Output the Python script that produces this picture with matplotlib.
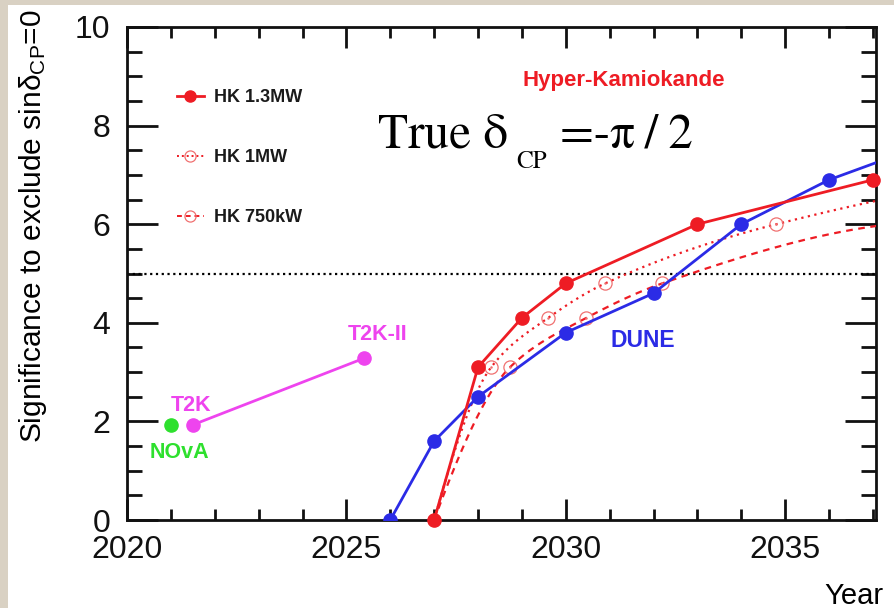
import numpy as np
import matplotlib
matplotlib.use("Agg")
import matplotlib.pyplot as plt
from matplotlib.patches import Rectangle
from matplotlib.lines import Line2D
from matplotlib.ticker import MultipleLocator

plt.rcParams['font.family'] = ['Liberation Sans', 'DejaVu Sans']
plt.rcParams['mathtext.fontset'] = 'custom'
plt.rcParams['mathtext.rm'] = 'Liberation Sans'
plt.rcParams['mathtext.it'] = 'Liberation Sans:italic'
plt.rcParams['mathtext.bf'] = 'Liberation Sans:bold'

# ---- data ----
hk13_year = [2027, 2028, 2029, 2030, 2033, 2037]
hk13_sig = [0.0, 3.1, 4.1, 4.8, 6.0, 6.9]

hk1_year = [2027, 2028.3, 2029.6, 2030.9, 2034.8, 2040.0]
hk1_sig = [0.0, 3.1, 4.1, 4.8, 6.0, 6.9]

hk750_year = [2027, 2028.73, 2030.47, 2032.2, 2037.4]
hk750_sig = [0.0, 3.1, 4.1, 4.8, 6.0]

dune_year = [2026, 2027, 2028, 2030, 2032, 2034, 2036, 2038]
dune_sig = [0.0, 1.6, 2.5, 3.8, 4.6, 6.0, 6.9, 7.55]

t2k_year = [2021.5, 2025.4]
t2k_sig = [1.93, 3.28]

nova_year = [2021.0]
nova_sig = [1.93]

threshold = 5.0

RED = '#ee1c24'
BLUE = '#2b2be6'
MAGENTA = '#ee44ee'
GREEN = '#2ee02e'
SERIF = ['STIXGeneral', 'DejaVu Serif']


def pchip(x, y, n=400):
    """Monotone cubic curve through the given points."""
    x = np.asarray(x, float)
    y = np.asarray(y, float)
    h = np.diff(x)
    d = np.diff(y) / h
    m = np.zeros_like(x)
    for k in range(1, len(x) - 1):
        if d[k - 1] * d[k] > 0:
            w1 = 2 * h[k] + h[k - 1]
            w2 = h[k] + 2 * h[k - 1]
            m[k] = (w1 + w2) / (w1 / d[k - 1] + w2 / d[k])
    m[0] = ((2 * h[0] + h[1]) * d[0] - h[0] * d[1]) / (h[0] + h[1])
    if np.sign(m[0]) != np.sign(d[0]):
        m[0] = 0
    m[-1] = ((2 * h[-1] + h[-2]) * d[-1] - h[-1] * d[-2]) / (h[-1] + h[-2])
    if np.sign(m[-1]) != np.sign(d[-1]):
        m[-1] = 0
    xs = np.linspace(x[0], x[-1], n)
    idx = np.clip(np.searchsorted(x, xs) - 1, 0, len(x) - 2)
    t = (xs - x[idx]) / h[idx]
    h00 = 2 * t**3 - 3 * t**2 + 1
    h10 = t**3 - 2 * t**2 + t
    h01 = -2 * t**3 + 3 * t**2
    h11 = t**3 - t**2
    ys = (h00 * y[idx] + h10 * h[idx] * m[idx] + h01 * y[idx + 1]
          + h11 * h[idx] * m[idx + 1])
    return xs, ys


fig = plt.figure(figsize=(8.94, 6.08), dpi=100)
fig.patch.set_facecolor('#d9d1c3')
fig.patches.append(Rectangle((8 / 894, 0), 1, 1 - 5 / 608,
                             transform=fig.transFigure, facecolor='white',
                             edgecolor='none', zorder=-5))

ax = fig.add_axes([127 / 894, 1 - 520 / 608, 749 / 894, 493 / 608])
ax.set_xlim(2020, 2037.07)
ax.set_ylim(0, 10)

# threshold line
ax.axhline(threshold, color='black', lw=1.6, ls=(0, (1, 1.6)), zorder=2)

# DUNE
ax.plot(dune_year, dune_sig, color=BLUE, lw=2, marker='o', ms=9.5,
        zorder=4, clip_on=True)

# HK 1MW and 750kW smooth curves with open markers
for yrs, sig, ls in [(hk1_year, hk1_sig, (0, (1, 2))),
                     (hk750_year, hk750_sig, (0, (3, 2.5)))]:
    xs, ys = pchip(yrs, sig)
    ax.plot(xs, ys, color=RED, lw=1.6, ls=ls, zorder=3)
    ax.plot(yrs[1:], sig[1:], ls='none', marker='o', ms=9.5, mfc='none',
            mec='#f07070', mew=0.9, zorder=3)
    ax.plot(yrs[1:], sig[1:], ls='none', marker='o', ms=1.8, mfc='#f07070',
            mec='none', zorder=3)

# HK 1.3MW
ax.plot(hk13_year, hk13_sig, color=RED, lw=2, marker='o', ms=9.5,
        zorder=5, clip_on=False)

# T2K and NOvA
ax.plot(t2k_year, t2k_sig, color=MAGENTA, lw=2, marker='o', ms=9.5, zorder=5)
ax.plot(nova_year, nova_sig, color=GREEN, ls='none', marker='o', ms=9.5,
        zorder=5)

# labels
ax.text(2021.45, 2.1, 'T2K', color=MAGENTA, fontsize=15.5, fontweight='bold',
        ha='center', va='bottom')
ax.text(2025.7, 3.55, 'T2K-II', color=MAGENTA, fontsize=15.5,
        fontweight='bold', ha='center', va='bottom')
ax.text(2021.2, 1.36, 'NOvA', color=GREEN, fontsize=15.5, fontweight='bold',
        ha='center', va='center')
ax.text(2031.75, 3.65, 'DUNE', color=BLUE, fontsize=16.5, fontweight='bold',
        ha='center', va='center')
ax.text(2031.33, 8.92, 'Hyper-Kamiokande', color=RED, fontsize=16,
        fontweight='bold', ha='center', va='center')

# "True delta_CP = -pi/2" set in three pieces for a deep subscript
ax.text(2025.72, 7.55, 'True δ', family=SERIF, fontsize=35.5,
        ha='left', va='baseline')
ax.text(2028.86, 7.13, 'CP', family=SERIF, fontsize=18,
        ha='left', va='baseline')
ax.text(2029.87, 7.55, '=-π\u2009/\u20092', family=SERIF, fontsize=35.5,
        ha='left', va='baseline')

# legend
handles = [
    Line2D([], [], color=RED, lw=2, marker='o', ms=8),
    Line2D([], [], color=RED, lw=1.4, ls=(0, (1, 1.5)), marker='o', ms=8,
           mfc='none', mec='#f07070', mew=0.9),
    Line2D([], [], color=RED, lw=1.4, ls=(0, (2.5, 2)), marker='o', ms=8,
           mfc='none', mec='#f07070', mew=0.9),
]
labels = ['HK 1.3MW', 'HK 1MW', 'HK 750kW']
leg = ax.legend(handles, labels, loc='upper left',
                bbox_to_anchor=(0.057, 0.888), frameon=False,
                prop={'weight': 'bold', 'size': 13}, handlelength=1.5,
                handletextpad=0.55, labelspacing=2.38, borderaxespad=0)
for t in leg.get_texts():
    t.set_color('#1a1a1a')

# axes styling (inward ticks on all sides)
ax.xaxis.set_major_locator(MultipleLocator(5))
ax.xaxis.set_minor_locator(MultipleLocator(1))
ax.yaxis.set_major_locator(MultipleLocator(2))
ax.yaxis.set_minor_locator(MultipleLocator(0.5))
ax.tick_params(which='both', direction='in', top=True, right=True,
               width=2, colors='#111111')
ax.tick_params(axis='x', which='major', length=15, labelsize=23, pad=11)
ax.tick_params(axis='x', which='minor', length=8)
ax.tick_params(axis='y', which='major', length=22, labelsize=23, pad=12)
ax.tick_params(axis='y', which='minor', length=11)
for s in ax.spines.values():
    s.set_linewidth(2)
    s.set_color('#111111')

ax.set_ylabel(r'Significance to exclude sin$\mathrm{\delta}_{\mathrm{CP}}$=0',
              fontsize=21.5, math_fontfamily='custom')
ax.yaxis.set_label_coords(-0.104, 0.595)
ax.set_xlabel('Year', fontsize=21, ha='right')
ax.xaxis.set_label_coords(1.01, -0.125)

fig.savefig('out.png', dpi=100, facecolor=fig.get_facecolor())
